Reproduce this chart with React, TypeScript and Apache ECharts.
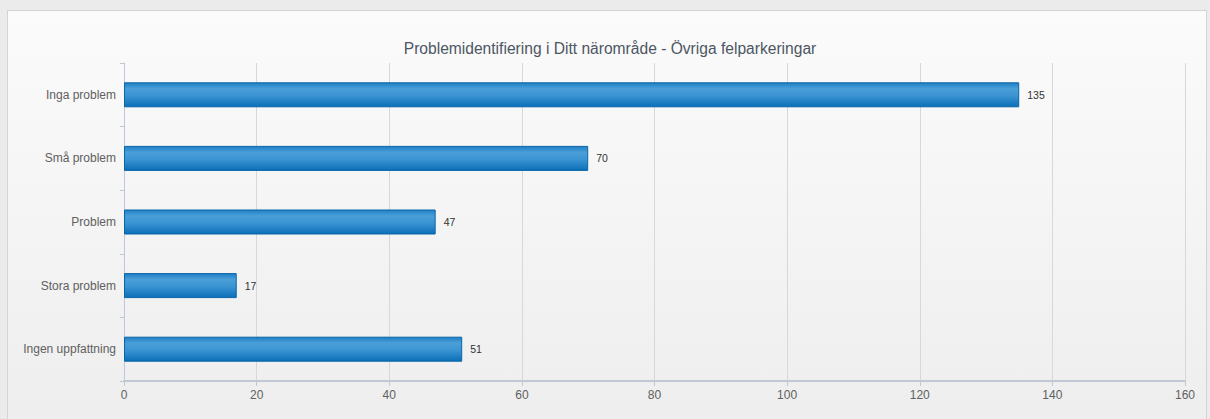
import React, { useEffect, useRef } from "react";
import * as echarts from "echarts";

const titleText = "Problemidentifiering i Ditt närområde - Övriga felparkeringar";
const categories = ["Inga problem", "Små problem", "Problem", "Stora problem", "Ingen uppfattning"];
const values = [135, 70, 47, 17, 51];
const xMin = 0;
const xMax = 160;
const xStep = 20;

export default function App() {
  const ref = useRef<HTMLDivElement>(null);
  useEffect(() => {
    document.body.style.margin = "0";
    const chart = echarts.init(ref.current!, null, { renderer: "svg" });
    const font = "'Liberation Sans', Arial, sans-serif";
    chart.setOption({
      animation: false,
      backgroundColor: "transparent",
      title: {
        text: titleText,
        left: "center",
        top: 25,
        textStyle: { fontFamily: font, fontSize: 15.6, fontWeight: "normal", color: "#4d5663" },
      },
      grid: { left: 114, right: 25, top: 53, bottom: 39, containLabel: false },
      xAxis: {
        type: "value",
        min: xMin,
        max: xMax,
        interval: xStep,
        axisLine: { show: true, lineStyle: { color: "#c0c8d6", width: 2 } },
        axisTick: { show: true, length: 5, lineStyle: { color: "#c0c8d6" } },
        axisLabel: { fontFamily: font, fontSize: 12, color: "#606060", margin: 8 },
        splitLine: { show: true, lineStyle: { color: "#d8d8d8", width: 1 } },
      },
      yAxis: {
        type: "category",
        data: categories,
        inverse: true,
        axisLine: { show: true, lineStyle: { color: "#c0c8d6", width: 1 } },
        axisTick: { show: true, length: 4, alignWithLabel: false, lineStyle: { color: "#c0c8d6" } },
        axisLabel: { fontFamily: font, fontSize: 12, color: "#606060", margin: 8 },
        splitLine: { show: false },
      },
      series: [
        {
          type: "bar",
          data: values,
          barWidth: 25,
          itemStyle: {
            color: new echarts.graphic.LinearGradient(0, 0, 0, 1, [
              { offset: 0, color: "#1f7fc4" },
              { offset: 0.25, color: "#4a9fd8" },
              { offset: 0.55, color: "#3a93d2" },
              { offset: 1, color: "#0b6fb8" },
            ]),
            borderColor: "#0a64a8",
            borderWidth: 1,
          },
          label: {
            show: true,
            position: "right",
            distance: 8,
            fontFamily: font,
            fontSize: 10.5,
            color: "#333333",
          },
        },
      ],
    });
    return () => chart.dispose();
  }, []);
  return (
    <div style={{ position: "fixed", left: 0, top: 0, width: 1210, height: 419, background: "#ebebeb", overflow: "hidden" }}>
      <div
        style={{
          position: "absolute",
          left: 7,
          top: 10,
          width: 1200,
          height: 410,
          boxSizing: "border-box",
          border: "1px solid #d4d4d4",
          background: "linear-gradient(#fbfbfb, #eeeeee)",
        }}
      >
        <div ref={ref} style={{ position: "absolute", left: 2, top: -1, width: 1200, height: 410 }} />
      </div>
    </div>
  );
}
